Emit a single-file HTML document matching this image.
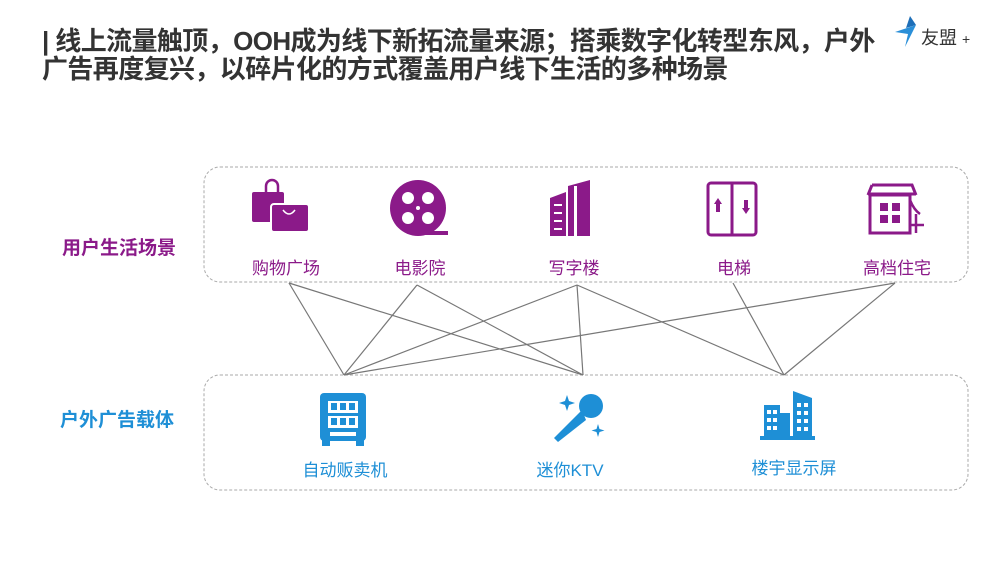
<!DOCTYPE html>
<html><head><meta charset="utf-8"><style>
body{margin:0;width:1000px;height:563px;background:#fff;position:relative;overflow:hidden;font-family:"Liberation Sans","Noto Sans CJK SC",sans-serif}
.t{position:absolute;left:42px;font-size:26px;line-height:28px;font-weight:bold;color:#333;white-space:nowrap;letter-spacing:-0.6px}
.lb{position:absolute;font-size:17px;white-space:nowrap;transform:translateX(-50%)}
.p{color:#8b1a89}.b{color:#1e8fd6}
</style></head><body>
<div class="t" style="top:27px">| 线上流量触顶，OOH成为线下新拓流量来源；搭乘数字化转型东风，户外</div>
<div class="t" style="top:55px">广告再度复兴，以碎片化的方式覆盖用户线下生活的多种场景</div>
<div style="position:absolute;left:921px;top:24px;font-size:18px;color:#333">友盟 <span style="font-size:14px">+</span></div>
<svg style="position:absolute;left:0;top:0" width="1000" height="563">
<path d="M895 32 L916 25 L905 47 L908 34 Z" fill="#2a8fd8"/>
<path d="M910 16 L916 25 L906 28 Z" fill="#1e6fb8"/>
<rect x="204" y="167" width="764" height="115" rx="16" fill="none" stroke="#aaa" stroke-dasharray="3,2"/>
<rect x="204" y="375" width="764" height="115" rx="16" fill="none" stroke="#aaa" stroke-dasharray="3,2"/>
<g stroke="#777" stroke-width="1.2">
<line x1="289" y1="283" x2="344" y2="375"/><line x1="289" y1="283" x2="583" y2="375"/>
<line x1="417" y1="285" x2="344" y2="375"/><line x1="417" y1="285" x2="583" y2="375"/>
<line x1="577" y1="285" x2="344" y2="375"/><line x1="577" y1="285" x2="583" y2="375"/><line x1="577" y1="285" x2="784" y2="375"/>
<line x1="733" y1="283" x2="784" y2="375"/>
<line x1="895" y1="283" x2="344" y2="375"/><line x1="895" y1="283" x2="784" y2="375"/>
</g>
<g fill="#8b1a89">
<rect x="252" y="192" width="32" height="30" rx="2"/><path d="M266 192 v-6 a6 6 0 0 1 12 0 v6" fill="none" stroke="#8b1a89" stroke-width="2.5"/>
<rect x="271" y="204" width="38" height="28" rx="3" stroke="#fff" stroke-width="2"/>
<path d="M283 210 q6 8 12 0" stroke="#fff" stroke-width="1.5" fill="none"/>
<circle cx="418" cy="208" r="28"/><rect x="418" y="231" width="30" height="4"/>
<g fill="#fff"><circle cx="408" cy="198" r="6"/><circle cx="428" cy="198" r="6"/><circle cx="408" cy="218" r="6"/><circle cx="428" cy="218" r="6"/><circle cx="418" cy="208" r="2"/></g>
<path d="M550 236 V198 L566 192 V236 Z M568 236 V186 L590 180 V236 Z"/>
<g fill="#fff"><rect x="554" y="204" width="8" height="2"/><rect x="554" y="212" width="8" height="2"/><rect x="554" y="220" width="8" height="2"/><rect x="554" y="228" width="8" height="2"/><rect x="574" y="186" width="3" height="50"/></g>
<rect x="708" y="183" width="48" height="52" rx="3" fill="none" stroke="#8b1a89" stroke-width="3"/><line x1="732" y1="183" x2="732" y2="235" stroke="#8b1a89" stroke-width="3"/>
<path d="M718 198 l-4 6 h8 z M716 204 h4 v8 h-4z M746 214 l-4 -6 h8 z M744 200 h4 v8 h-4z"/>
<path d="M868 194 h48 M872 185 h40 l4 10 M872 185 l-4 10" stroke="#8b1a89" stroke-width="3" fill="none"/>
<rect x="870" y="195" width="40" height="38" fill="none" stroke="#8b1a89" stroke-width="3"/>
<rect x="880" y="203" width="8" height="8"/><rect x="892" y="203" width="8" height="8"/><rect x="880" y="215" width="8" height="8"/><rect x="892" y="215" width="8" height="8"/>
<path d="M910 200 q4 10 10 14 M910 225 h14 M916 214 v19" stroke="#8b1a89" stroke-width="2.5" fill="none"/>
</g>
<g fill="#1e8fd6">
<rect x="320" y="393" width="46" height="48" rx="4"/><rect x="322" y="438" width="8" height="8"/><rect x="356" y="438" width="8" height="8"/>
<g fill="#fff"><rect x="328" y="401" width="30" height="12"/><rect x="328" y="416" width="30" height="12"/><rect x="330" y="432" width="26" height="4"/></g>
<g fill="#1e8fd6"><rect x="331" y="403" width="6" height="7"/><rect x="340" y="403" width="6" height="7"/><rect x="349" y="403" width="6" height="7"/><rect x="331" y="418" width="6" height="7"/><rect x="340" y="418" width="6" height="7"/><rect x="349" y="418" width="6" height="7"/></g>
<circle cx="591" cy="406" r="12"/><path d="M582 410 L586 420 L558 442 L554 438 Z"/>
<path d="M567 395 l2 6 6 2 -6 2 -2 6 -2 -6 -6 -2 6 -2z M598 424 l1.5 5 5 1.5 -5 1.5 -1.5 5 -1.5 -5 -5 -1.5 5 -1.5z"/>
<rect x="764" y="405" width="16" height="33"/><rect x="778" y="413" width="12" height="25"/><path d="M793 438 V391 L812 398 V438 Z"/><rect x="760" y="436" width="55" height="4"/>
<g fill="#fff"><rect x="767" y="410" width="4" height="4"/><rect x="773" y="410" width="4" height="4"/><rect x="767" y="418" width="4" height="4"/><rect x="773" y="418" width="4" height="4"/><rect x="767" y="426" width="4" height="4"/><rect x="773" y="426" width="4" height="4"/>
<rect x="797" y="403" width="4" height="4"/><rect x="804" y="403" width="4" height="4"/><rect x="797" y="411" width="4" height="4"/><rect x="804" y="411" width="4" height="4"/><rect x="797" y="419" width="4" height="4"/><rect x="804" y="419" width="4" height="4"/><rect x="797" y="427" width="4" height="4"/><rect x="804" y="427" width="4" height="4"/></g>
</g>
</svg>
<div style="position:absolute;left:62px;top:233px;font-size:19px;font-weight:bold" class="p">用户生活场景</div>
<div style="position:absolute;left:60px;top:405px;font-size:19px;font-weight:bold" class="b">户外广告载体</div>
<div class="lb p" style="left:286px;top:254px">购物广场</div>
<div class="lb p" style="left:420px;top:254px">电影院</div>
<div class="lb p" style="left:574px;top:254px">写字楼</div>
<div class="lb p" style="left:734px;top:254px">电梯</div>
<div class="lb p" style="left:897px;top:254px">高档住宅</div>
<div class="lb b" style="left:345px;top:456px">自动贩卖机</div>
<div class="lb b" style="left:570px;top:456px">迷你KTV</div>
<div class="lb b" style="left:794px;top:454px">楼宇显示屏</div>
</body></html>
